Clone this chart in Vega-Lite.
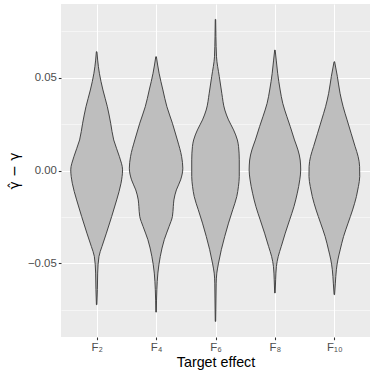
{
  "$schema": "https://vega.github.io/schema/vega-lite/v6.json",
  "width": 309,
  "height": 333,
  "autosize": {"type": "none"},
  "padding": {"left": 61, "top": 4, "right": 4, "bottom": 37},
  "background": "#FFFFFF",
  "data": {
    "values": [
      {"effect": "F2", "y": 0.0640, "w": 0.005},
      {"effect": "F2", "y": 0.0595, "w": 0.017},
      {"effect": "F2", "y": 0.0524, "w": 0.046},
      {"effect": "F2", "y": 0.0434, "w": 0.106},
      {"effect": "F2", "y": 0.0344, "w": 0.180},
      {"effect": "F2", "y": 0.0255, "w": 0.236},
      {"effect": "F2", "y": 0.0165, "w": 0.287},
      {"effect": "F2", "y": 0.0075, "w": 0.383},
      {"effect": "F2", "y": 0.0004, "w": 0.436},
      {"effect": "F2", "y": -0.0068, "w": 0.410},
      {"effect": "F2", "y": -0.0158, "w": 0.337},
      {"effect": "F2", "y": -0.0247, "w": 0.253},
      {"effect": "F2", "y": -0.0337, "w": 0.164},
      {"effect": "F2", "y": -0.0409, "w": 0.089},
      {"effect": "F2", "y": -0.0462, "w": 0.039},
      {"effect": "F2", "y": -0.0552, "w": 0.017},
      {"effect": "F2", "y": -0.0641, "w": 0.012},
      {"effect": "F2", "y": -0.0722, "w": 0.004},

      {"effect": "F4", "y": 0.0613, "w": 0.005},
      {"effect": "F4", "y": 0.0524, "w": 0.051},
      {"effect": "F4", "y": 0.0434, "w": 0.115},
      {"effect": "F4", "y": 0.0344, "w": 0.182},
      {"effect": "F4", "y": 0.0255, "w": 0.275},
      {"effect": "F4", "y": 0.0165, "w": 0.358},
      {"effect": "F4", "y": 0.0075, "w": 0.430},
      {"effect": "F4", "y": 0.0013, "w": 0.450},
      {"effect": "F4", "y": -0.0050, "w": 0.413},
      {"effect": "F4", "y": -0.0104, "w": 0.342},
      {"effect": "F4", "y": -0.0158, "w": 0.300},
      {"effect": "F4", "y": -0.0193, "w": 0.290},
      {"effect": "F4", "y": -0.0247, "w": 0.275},
      {"effect": "F4", "y": -0.0301, "w": 0.219},
      {"effect": "F4", "y": -0.0372, "w": 0.138},
      {"effect": "F4", "y": -0.0462, "w": 0.071},
      {"effect": "F4", "y": -0.0552, "w": 0.030},
      {"effect": "F4", "y": -0.0641, "w": 0.013},
      {"effect": "F4", "y": -0.0762, "w": 0.004},

      {"effect": "F6", "y": 0.0814, "w": 0.004},
      {"effect": "F6", "y": 0.0721, "w": 0.008},
      {"effect": "F6", "y": 0.0613, "w": 0.017},
      {"effect": "F6", "y": 0.0506, "w": 0.064},
      {"effect": "F6", "y": 0.0416, "w": 0.106},
      {"effect": "F6", "y": 0.0326, "w": 0.157},
      {"effect": "F6", "y": 0.0273, "w": 0.219},
      {"effect": "F6", "y": 0.0219, "w": 0.304},
      {"effect": "F6", "y": 0.0165, "w": 0.368},
      {"effect": "F6", "y": 0.0130, "w": 0.388},
      {"effect": "F6", "y": 0.0058, "w": 0.400},
      {"effect": "F6", "y": -0.0032, "w": 0.400},
      {"effect": "F6", "y": -0.0086, "w": 0.386},
      {"effect": "F6", "y": -0.0140, "w": 0.358},
      {"effect": "F6", "y": -0.0211, "w": 0.290},
      {"effect": "F6", "y": -0.0283, "w": 0.219},
      {"effect": "F6", "y": -0.0355, "w": 0.155},
      {"effect": "F6", "y": -0.0426, "w": 0.098},
      {"effect": "F6", "y": -0.0498, "w": 0.051},
      {"effect": "F6", "y": -0.0552, "w": 0.022},
      {"effect": "F6", "y": -0.0606, "w": 0.012},
      {"effect": "F6", "y": -0.0713, "w": 0.008},
      {"effect": "F6", "y": -0.0812, "w": 0.004},

      {"effect": "F8", "y": 0.0649, "w": 0.004},
      {"effect": "F8", "y": 0.0595, "w": 0.022},
      {"effect": "F8", "y": 0.0524, "w": 0.046},
      {"effect": "F8", "y": 0.0434, "w": 0.088},
      {"effect": "F8", "y": 0.0362, "w": 0.132},
      {"effect": "F8", "y": 0.0290, "w": 0.202},
      {"effect": "F8", "y": 0.0237, "w": 0.258},
      {"effect": "F8", "y": 0.0165, "w": 0.329},
      {"effect": "F8", "y": 0.0111, "w": 0.388},
      {"effect": "F8", "y": 0.0057, "w": 0.425},
      {"effect": "F8", "y": 0.0003, "w": 0.434},
      {"effect": "F8", "y": -0.0050, "w": 0.418},
      {"effect": "F8", "y": -0.0122, "w": 0.376},
      {"effect": "F8", "y": -0.0194, "w": 0.320},
      {"effect": "F8", "y": -0.0265, "w": 0.248},
      {"effect": "F8", "y": -0.0337, "w": 0.174},
      {"effect": "F8", "y": -0.0409, "w": 0.106},
      {"effect": "F8", "y": -0.0462, "w": 0.056},
      {"effect": "F8", "y": -0.0516, "w": 0.025},
      {"effect": "F8", "y": -0.0588, "w": 0.012},
      {"effect": "F8", "y": -0.0659, "w": 0.004},

      {"effect": "F10", "y": 0.0586, "w": 0.005},
      {"effect": "F10", "y": 0.0506, "w": 0.051},
      {"effect": "F10", "y": 0.0416, "w": 0.096},
      {"effect": "F10", "y": 0.0344, "w": 0.148},
      {"effect": "F10", "y": 0.0273, "w": 0.214},
      {"effect": "F10", "y": 0.0201, "w": 0.282},
      {"effect": "F10", "y": 0.0130, "w": 0.349},
      {"effect": "F10", "y": 0.0076, "w": 0.400},
      {"effect": "F10", "y": 0.0022, "w": 0.425},
      {"effect": "F10", "y": -0.0032, "w": 0.427},
      {"effect": "F10", "y": -0.0086, "w": 0.405},
      {"effect": "F10", "y": -0.0140, "w": 0.371},
      {"effect": "F10", "y": -0.0212, "w": 0.307},
      {"effect": "F10", "y": -0.0283, "w": 0.231},
      {"effect": "F10", "y": -0.0355, "w": 0.155},
      {"effect": "F10", "y": -0.0427, "w": 0.098},
      {"effect": "F10", "y": -0.0481, "w": 0.059},
      {"effect": "F10", "y": -0.0534, "w": 0.034},
      {"effect": "F10", "y": -0.0606, "w": 0.017},
      {"effect": "F10", "y": -0.0668, "w": 0.004}
    ]
  },
  "transform": [
    {"calculate": "indexof(['F2','F4','F6','F8','F10'], datum.effect) + 1", "as": "pos"},
    {"calculate": "datum.pos - datum.w", "as": "left"},
    {"calculate": "datum.pos + datum.w", "as": "right"}
  ],
  "mark": {
    "type": "area",
    "orient": "horizontal",
    "interpolate": "monotone",
    "fill": "#BEBEBE",
    "fillOpacity": 1,
    "stroke": "#333333",
    "strokeWidth": 0.9
  },
  "encoding": {
    "y": {
      "field": "y",
      "type": "quantitative",
      "scale": {"domain": [-0.0896, 0.0897], "nice": false, "zero": false},
      "axis": {
        "values": [-0.075, -0.05, -0.025, 0, 0.025, 0.05, 0.075],
        "format": ".2f",
        "labelExpr": "round(abs(datum.value) * 1000) % 50 == 0 ? datum.label : ''",
        "gridWidth": {"condition": {"test": "round(abs(datum.value) * 1000) % 50 == 0", "value": 1.07}, "value": 0.53},
        "tickOpacity": {"condition": {"test": "round(abs(datum.value) * 1000) % 50 == 0", "value": 1}, "value": 0},
        "title": "γ̂ − γ",
        "titleFont": "DejaVu Sans",
        "titleFontSize": 14,
        "titlePadding": 6
      }
    },
    "x": {
      "field": "left",
      "type": "quantitative",
      "scale": {"domain": [0.4, 5.6], "nice": false, "zero": false},
      "axis": {
        "values": [1, 2, 3, 4, 5],
        "labelExpr": "['F₂','F₄','F₆','F₈','F₁₀'][datum.value - 1]",
        "title": "Target effect",
        "titlePadding": 2
      }
    },
    "x2": {"field": "right"},
    "detail": {"field": "effect", "type": "nominal"}
  },
  "config": {
    "font": "Liberation Sans",
    "view": {"fill": "#EBEBEB", "stroke": null},
    "axis": {
      "domain": false,
      "grid": true,
      "gridColor": "#FFFFFF",
      "gridWidth": 1.07,
      "tickColor": "#333333",
      "tickSize": 2.7,
      "tickWidth": 1.07,
      "labelColor": "#4D4D4D",
      "labelFontSize": 11.4,
      "labelPadding": 2,
      "titleFontSize": 14.3,
      "titleFontWeight": "normal",
      "titleColor": "#000000"
    }
  }
}
